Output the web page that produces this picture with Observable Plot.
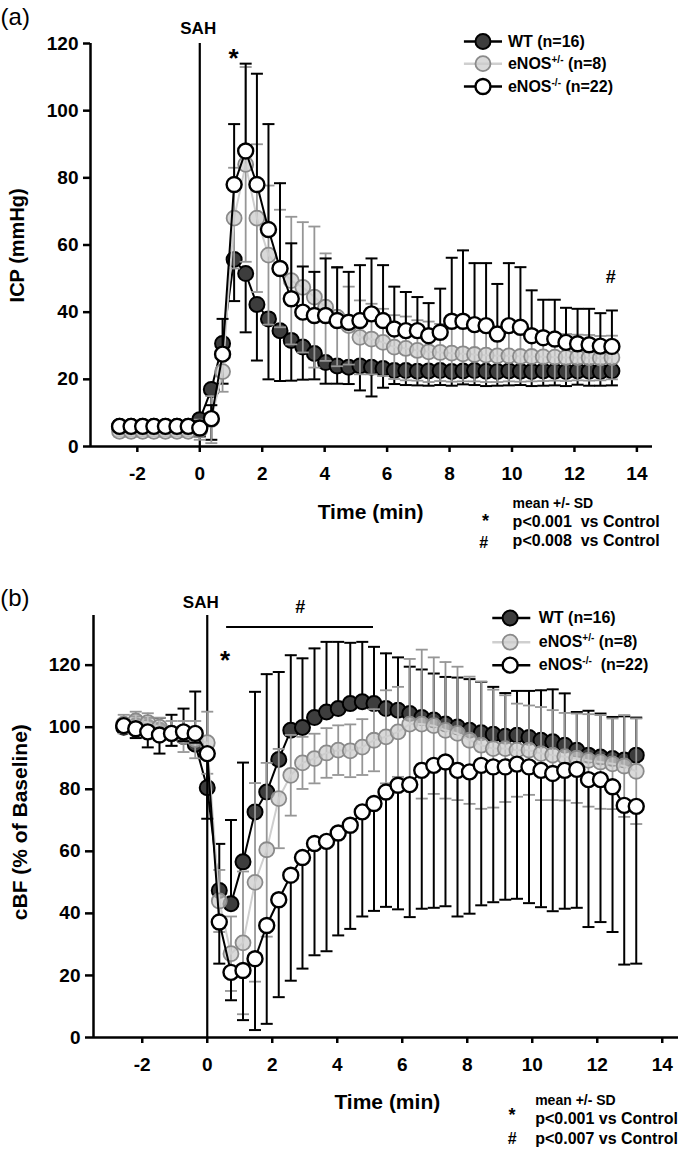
<!DOCTYPE html>
<html><head><meta charset="utf-8">
<script src="https://cdn.jsdelivr.net/npm/d3@7"></script>
<script src="https://cdn.jsdelivr.net/npm/@observablehq/plot@0.6"></script>
<style>
body{margin:0;background:#fff;}
#chart{width:686px;}
#chart svg{display:block;}
</style></head><body><div id="chart"></div>
<script>
// ---- time points (min, every 22 s) ----
const time = [-2.57,-2.2,-1.83,-1.47,-1.1,-0.73,-0.37,0,
  0.37,0.73,1.1,1.47,1.83,2.2,2.57,2.93,3.3,3.67,4.03,4.4,4.77,5.13,5.5,5.87,6.23,6.6,
  6.97,7.33,7.7,8.07,8.43,8.8,9.17,9.53,9.9,10.27,10.63,11,11.37,11.73,12.1,12.47,12.83,13.2];
const xTicks = [-2,0,2,4,6,8,10,12,14];
const icpTicks = [0,20,40,60,80,100,120];
const cbfTicks = [0,20,40,60,80,100,120];

// ---- (a) ICP, mmHg: mean and SD ----
const icpWT = [6,6,6,6,6,6,6,8,
  17,30.7,55.7,51.5,42.3,38,34.5,31.6,29.6,27.7,25,24,23.6,24,23.6,23.2,22.6,
  22.6,22.4,22.5,22.6,22.3,22.5,22.6,22.4,22.3,22.5,22.4,22.3,22.5,22.4,22.3,22.5,22.4,22.3,22.5];
const icpWTsd = [1,1,1,1,1,1,1,5,
  15,12,12.4,17.5,16.7,18,15,12,9.7,7.7,6.3,5.3,5,7.3,8.7,5.7,4,
  4.3,4.2,4.4,4.3,4.2,4.0,4.3,4.4,4.2,4.3,4.1,4.3,4.4,4.2,4.3,4.1,4.3,4.2,4.3];
const icpHET = [4.5,4.5,4.5,4.5,4.5,4.5,4.5,5,
  8,22.3,68,84,68,57,53,49.4,47.4,44.5,41.5,38.5,36,32.5,32,31,29.6,29.2,28.6,28.2,
  28,27.8,27.6,27.4,27.2,27,27,26.8,26.8,26.7,26.6,26.5,26.5,26.4,26.3,26.5];
const icpHETsd = [1.5,1.5,1.5,1.5,1.5,1.5,1.5,3,
  7,6,15,29,22,20.7,17.5,19,19.4,21,16,14.6,11.6,11,10.5,10,9.5,9.5,9,9,
  8.5,8.5,8.2,8,8,7.8,7.6,7.5,7.4,7.2,7,7,6.8,6.8,6.6,6.5];
const icpKO = [6,6,6,6,6,6,6,5.5,
  8.3,27.5,78,88,78,64.6,53,44,40,39,39,37.5,37,37.5,39.5,37.5,35,34.5,34.5,33,34,
  37.3,37.3,36.3,36,33.5,36,35.5,33,32.4,32,31,30.6,30.3,29.9,29.8];
const icpKOsd = [1.5,1.5,1.5,1.5,1.5,1.5,1.5,2,
  4,10.5,18,26,33,31.4,25.4,16.5,13.6,13,17,15.9,15,16.5,16.5,16.5,12.6,11.5,10,9.7,13,
  18.9,21.1,18.3,18.6,14.9,18.6,17.9,13.5,11.3,11.7,10.3,10.4,10.7,9.8,10.7];

// ---- (b) cBF, % of baseline: mean and SD ----
const cbfWT = [100,100.5,100,99,98,97,94.5,80.5,
  47.4,43.1,56.6,72.7,79.1,89.6,99,99.9,103.1,104.9,106,107.6,108.2,107.6,106,105.5,104.4,103.1,102.3,101,
  100.1,99,98.2,97.7,97.1,97.4,96.7,95.8,95.3,94.2,92.6,91,90.4,89.9,89.4,91];
const cbfWTsd = [2,3,3,4,6,9,17,10,
  15,27,32,38.7,38,28.2,24.2,22.3,22.3,22.6,21.5,19.6,19.3,18.3,17.8,17,15.1,15.5,15,15.2,
  15.9,16.5,16.4,15.3,13.9,14.3,15,16.1,16.9,16.7,12.3,14.3,14,13.4,14.1,12.1];
const cbfHET = [101,102,101.5,100,98,97,96,95,
  44,27,30.5,50,60.5,77,84.5,88.5,89.9,91.7,92.6,92.4,93.6,95.8,96.9,98.5,101,101,100.5,99,
  98,95.8,94.2,93.1,93.1,92.6,92.6,91.5,91,90.5,90,89.3,88.8,88.2,87.5,85.8];
const cbfHETsd = [3,3,3,3,4,5,6,10,
  10,12,23,32,28,16,13,8.4,8,8,8,8.5,9,10,15,14.5,21,24,22,22,
  21.5,20.5,20.5,19,17.2,15,14.4,15,14.5,14.1,14.4,14.9,15.1,14.6,16.4,17];
const cbfKO = [100.5,99.5,98.5,97.5,98,98.5,98,91.5,
  37.2,21,21.6,25.4,36.1,44.4,52.3,58,62.5,63.2,65.9,68.4,72.7,75.4,79.1,81.3,81.5,86.1,87.7,88.8,
  86.1,85.6,87.7,87.2,87.2,88.1,87.2,86.1,85.1,86.1,86.4,83.1,83.1,80.8,74.8,74.5];
const cbfKOsd = [2,3,5,6,4,3,3,21,
  13.4,9,16,23,31.7,31.4,34,35.8,36,35.4,33,33.4,33.7,34.6,37,40,42.7,44.6,45.9,46.5,
  47.1,45.7,45.1,43.6,42.8,43.4,43.9,44.1,44.4,44.6,44.6,47.5,45.9,46.8,51.3,50.7];

const groupLabelsA = ["WT (n=16)", "eNOS^+/-^ (n=8)", "eNOS^-/-^ (n=22)"];
const groupLabelsB = ["WT (n=16)", "eNOS^+/-^ (n=8)", "eNOS^-/-^  (n=22)"];

// ---- styles ----
const FONT = "'Liberation Sans', Arial, Helvetica, sans-serif";
const styles = [
  {line:"#000", lineW:2, fill:"#3d3d3d", fillOp:1, stroke:"#000", sw:2, bar:"#000", barW:2, r:7.5},
  {line:"#cfcfcf", lineW:2, fill:"#cccccc", fillOp:0.75, stroke:"#8a8a8a", sw:1.8, bar:"#969696", barW:1.8, r:7.5},
  {line:"#000", lineW:2, fill:"#fff", fillOp:1, stroke:"#000", sw:2.4, bar:"#000", barW:2, r:7.5}
];
const capSymbol = {draw(ctx, size){ const w = Math.sqrt(size/Math.PI); ctx.moveTo(-w,0); ctx.lineTo(w,0); }};

function seriesMarks(mean, sd, dirUp, dirDown, st){
  const rows = time.map((t,i)=>({t, v: mean[i], hi: dirUp ? mean[i]+sd[i] : mean[i], lo: dirDown ? mean[i]-sd[i] : mean[i]}));
  const caps = [];
  rows.forEach(d=>{ if(dirUp) caps.push({t:d.t, y:d.hi}); if(dirDown) caps.push({t:d.t, y:d.lo}); });
  return [
    Plot.ruleX(rows, {x:"t", y1:"lo", y2:"hi", stroke: st.bar, strokeWidth: st.barW}),
    Plot.dot(caps, {x:"t", y:"y", symbol: capSymbol, r: 6, fill:"none", stroke: st.bar, strokeWidth: st.barW}),
    Plot.line(rows, {x:"t", y:"v", stroke: st.line, strokeWidth: st.lineW}),
    Plot.dot(rows, {x:"t", y:"v", r: st.r, fill: st.fill, fillOpacity: st.fillOp, stroke: st.stroke, strokeWidth: st.sw})
  ];
}

function legendMarks(labels, L){
  const rows = labels.map((label,i)=>({label, y: L.ys[i], st: styles[i]}));
  const out = [];
  rows.forEach(d=>{
    out.push(Plot.link([d], {x1: ()=>L.x1, x2: ()=>L.x2, y1:"y", y2:"y", stroke: d.st.line, strokeWidth: 2.5}));
    out.push(Plot.dot([d], {x: ()=>L.cx, y:"y", r: d.st.r, fill: d.st.fill, fillOpacity: d.st.fillOp, stroke: d.st.stroke, strokeWidth: d.st.sw}));
    out.push(Plot.text([d], {x: ()=>L.tx, y:"y", text:"label", textAnchor:"start", fontSize: 16, fontWeight:"bold"}));
  });
  return out;
}

function noteMarks(notes){
  return notes.map(n => Plot.text([n], {x:"x", y:"y", text:"text", fontSize: n.size,
     textAnchor: n.anchor || "middle", fontWeight: n.weight || "bold", rotate: n.rotate || 0}));
}

function supers(svg){
  svg.querySelectorAll("text").forEach(el=>{
    const s = el.textContent;
    if (!s.includes("^")) return;
    const parts = s.split("^");
    el.textContent = "";
    parts.forEach((p,i)=>{
      const ts = document.createElementNS("http://www.w3.org/2000/svg","tspan");
      ts.textContent = p;
      if (i % 2 === 1){ ts.setAttribute("dy","-6"); ts.setAttribute("font-size","10"); }
      else if (i > 0){ ts.setAttribute("dy","6"); }
      el.appendChild(ts);
    });
  });
}

function panel(cfg){
  const svg = Plot.plot({
    width: 686, height: 577,
    marginLeft: cfg.ml, marginRight: cfg.mr, marginTop: cfg.mt, marginBottom: cfg.mb,
    x: {domain: [-3.5, 14.5]},
    y: {domain: cfg.ydom},
    style: {fontFamily: FONT, fontWeight: "bold", fontSize: "19px", color: "#000", background: "#fff", overflow: "visible"},
    marks: [
      Plot.axisX({ticks: xTicks, tickSize: 6, tickPadding: 14, tickFormat: d => String(d), strokeWidth: 2.5, label: null}),
      Plot.axisY({ticks: cfg.yticks, tickSize: cfg.yts, tickPadding: 5, strokeWidth: 2.5, label: null}),
      Plot.ruleX([cfg.xmin], {strokeWidth: 2.5}),
      Plot.ruleY([0], {strokeWidth: 2.5}),
      Plot.ruleX([0], {strokeWidth: 2.2}),
      ...seriesMarks(cfg.wt, cfg.wtsd, cfg.wtUp, cfg.wtDown, styles[0]),
      ...seriesMarks(cfg.het, cfg.hetsd, true, true, styles[1]),
      ...seriesMarks(cfg.ko, cfg.kosd, cfg.koUp, cfg.koDown, styles[2]),
      ...legendMarks(cfg.labels, cfg.legend),
      ...(cfg.bar ? [Plot.link([cfg.bar], {x1:"x1", x2:"x2", y1:"y", y2:"y", stroke:"#000", strokeWidth: 2})] : []),
      ...noteMarks(cfg.notes)
    ]
  });
  supers(svg);
  return svg;
}

const chartA = panel({
  ml: 90, mr: 34, mt: 43, mb: 131, xmin: -3.5, ydom: [0,120], yticks: icpTicks, yts: 7,
  wt: icpWT, wtsd: icpWTsd, wtUp: false, wtDown: true,
  het: icpHET, hetsd: icpHETsd,
  ko: icpKO, kosd: icpKOsd, koUp: true, koDown: false,
  labels: groupLabelsA,
  legend: {x1: 8.46, x2: 9.68, cx: 9.07, tx: 9.87, ys: [120.6, 114, 107.2]},
  notes: [
    {x:-6.38, y:127.8, text:"(a)", size:24, weight:"normal", anchor:"start"},
    {x:-0.05, y:124.5, text:"SAH", size:17},
    {x:1.08, y:115.5, text:"*", size:26},
    {x:13.16, y:50.3, text:"#", size:18},
    {x:5.47, y:-19.7, text:"Time (min)", size:21},
    {x:10.02, y:-17, text:"mean +/- SD", size:14, anchor:"start"},
    {x:9.15, y:-22.3, text:"*", size:18},
    {x:10.02, y:-22.3, text:"p<0.001\u00a0 vs Control", size:16, anchor:"start"},
    {x:9.09, y:-28.6, text:"#", size:16},
    {x:10.02, y:-28, text:"p<0.008\u00a0 vs Control", size:16, anchor:"start"},
    {x:-5.84, y:59.9, text:"ICP (mmHg)", size:20, rotate:-90}
  ]
});

const chartB = panel({
  ml: 93, mr: 8, mt: 38, mb: 117, xmin: -3.5, ydom: [0,136], yticks: cbfTicks, yts: 8,
  wt: cbfWT, wtsd: cbfWTsd, wtUp: true, wtDown: false,
  het: cbfHET, hetsd: cbfHETsd,
  ko: cbfKO, kosd: cbfKOsd, koUp: false, koDown: true,
  labels: groupLabelsB,
  legend: {x1: 8.77, x2: 9.94, cx: 9.32, tx: 10.2, ys: [135.2, 127.4, 120]},
  bar: {x1: 0.58, x2: 5.1, y: 132.3},
  notes: [
    {x:-6.37, y:141.6, text:"(b)", size:24, weight:"normal", anchor:"start"},
    {x:-0.2, y:140.3, text:"SAH", size:17},
    {x:0.55, y:121.6, text:"*", size:26},
    {x:2.86, y:138.7, text:"#", size:18},
    {x:5.54, y:-21, text:"Time (min)", size:21},
    {x:10.09, y:-20.3, text:"mean +/- SD", size:14, anchor:"start"},
    {x:9.38, y:-25.2, text:"*", size:18},
    {x:10.09, y:-26.1, text:"p<0.001 vs Control", size:16, anchor:"start"},
    {x:9.38, y:-32.6, text:"#", size:16},
    {x:10.09, y:-32.6, text:"p<0.007 vs Control", size:16, anchor:"start"},
    {x:-5.75, y:69.4, text:"cBF (% of Baseline)", size:21, rotate:-90}
  ]
});

document.getElementById("chart").append(chartA, chartB);
</script>
</body></html>
